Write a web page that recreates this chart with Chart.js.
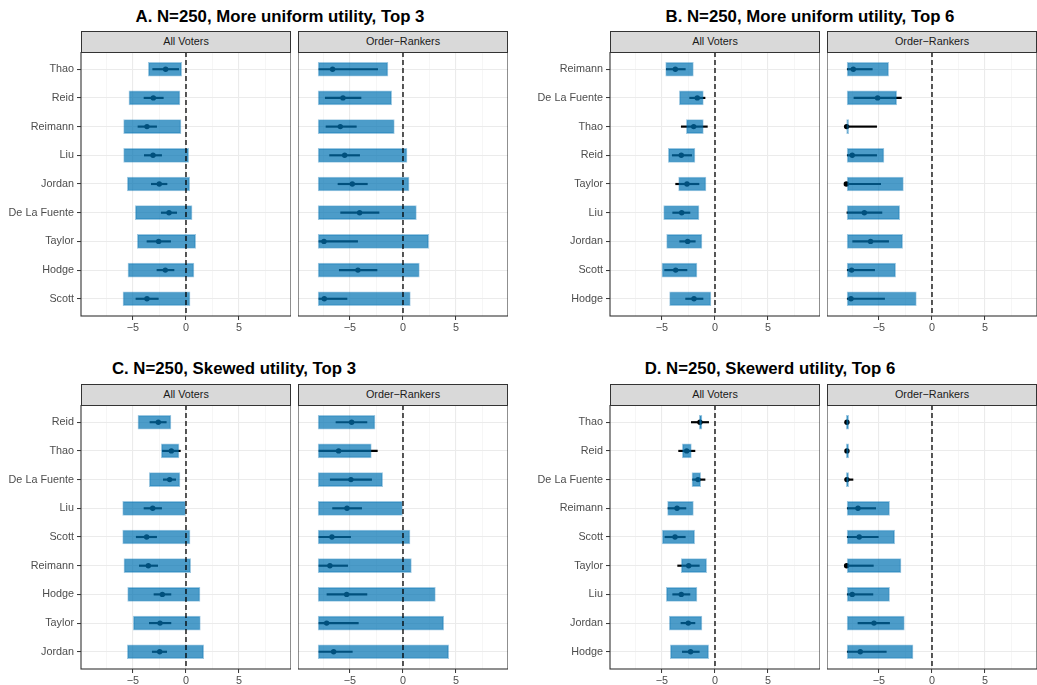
<!DOCTYPE html>
<html lang="en">
<head>
<meta charset="utf-8" />
<title>Candidate ranking estimates</title>
<script src="https://cdn.jsdelivr.net/npm/chart.js"></script>
<style>
  body {
    margin: 0;
    width: 1037px;
    height: 685px;
    position: relative;
    overflow: hidden;
    background: #fff;
    font-family: "Liberation Sans", Arial, sans-serif;
  }
  .title {
    position: absolute;
    font-weight: bold;
    font-size: 16.8px;
    line-height: 18px;
    color: #000;
    transform: translateX(-50%);
    white-space: nowrap;
  }
  .strip {
    position: absolute;
    box-sizing: border-box;
    border: 1px solid #333;
    background: #d9d9d9;
    color: #1a1a1a;
    font-size: 10.8px;
    line-height: 19px;
    text-align: center;
  }
  canvas { position: absolute; }
</style>
</head>
<body>
<script>
  // ---- data ----
  // A. N=250, More uniform utility, Top 3
  const namesA = ["Thao", "Reid", "Reimann", "Liu", "Jordan", "De La Fuente", "Taylor", "Hodge", "Scott"];
  const barsA_all = [[-3.55,-0.41],[-5.38,-0.57],[-5.88,-0.47],[-5.88,0.25],[-5.53,0.35],[-4.78,0.57],[-4.59,0.91],[-5.47,0.75],[-5.94,0.38]];
  const estA_all = [-1.92,-3.08,-3.68,-3.11,-2.52,-1.60,-2.58,-1.95,-3.68];
  const ciA_all = [[-3.14,-0.69],[-3.96,-2.14],[-4.53,-2.77],[-3.93,-2.30],[-3.27,-1.79],[-2.33,-0.88],[-3.68,-1.45],[-2.74,-1.13],[-4.72,-2.61]];
  const barsA_ord = [[-8,-1.42],[-8,-1.07],[-8,-0.82],[-8,0.38],[-8,0.57],[-8,1.26],[-8,2.42],[-8,1.54],[-8,0.69]];
  const estA_ord = [-6.64,-5.66,-5.91,-5.50,-4.78,-4.09,-7.45,-4.25,-7.42];
  const ciA_ord = [[-7.92,-2.39],[-7.33,-3.96],[-7.26,-4.40],[-6.92,-4.09],[-6.13,-3.36],[-5.88,-2.26],[-7.92,-4.28],[-6.01,-2.45],[-7.92,-5.28]];

  // B. N=250, More uniform utility, Top 6
  const namesB = ["Reimann", "De La Fuente", "Thao", "Reid", "Taylor", "Liu", "Jordan", "Scott", "Hodge"];
  const barsB_all = [[-4.65,-2.04],[-3.36,-1.10],[-2.70,-1.10],[-4.40,-1.89],[-3.43,-0.85],[-4.84,-1.51],[-4.56,-1.23],[-5.00,-1.70],[-4.28,-0.38]];
  const estB_all = [-3.74,-1.67,-2.01,-3.18,-2.64,-3.14,-2.58,-3.71,-1.98];
  const ciB_all = [[-4.59,-2.80],[-2.39,-0.94],[-3.18,-0.72],[-4.03,-2.20],[-3.71,-1.51],[-3.99,-2.36],[-3.33,-1.86],[-4.75,-2.64],[-2.77,-1.13]];
  const barsB_ord = [[-8,-4.09],[-8,-3.33],[-8.05,-7.86],[-8,-4.53],[-8,-2.70],[-8,-3.05],[-8,-2.77],[-8,-3.43],[-8,-1.48]];
  const estB_ord = [-7.42,-5.13,-8.05,-7.52,-8.08,-6.38,-5.79,-7.58,-7.64];
  const ciB_ord = [[-7.99,-5.63],[-7.36,-2.89],[-8.05,-5.22],[-7.99,-5.22],[-8.08,-4.84],[-8.02,-4.72],[-7.48,-4.09],[-7.99,-5.41],[-7.99,-4.47]];

  // C. N=250, Skewed utility, Top 3
  const namesC = ["Reid", "Thao", "De La Fuente", "Liu", "Scott", "Reimann", "Hodge", "Taylor", "Jordan"];
  const barsC_all = [[-4.53,-1.42],[-2.33,-0.66],[-3.46,-0.57],[-5.97,0.0],[-5.97,0.38],[-5.85,0.44],[-5.50,1.32],[-4.97,1.35],[-5.53,1.67]];
  const estC_all = [-2.61,-1.38,-1.54,-3.14,-3.71,-3.55,-2.23,-2.45,-2.48];
  const ciC_all = [[-3.40,-1.86],[-2.23,-0.53],[-2.14,-0.97],[-3.96,-2.30],[-4.69,-2.77],[-4.40,-2.67],[-3.02,-1.42],[-3.46,-1.42],[-3.18,-1.82]];
  const barsC_ord = [[-8,-2.64],[-8,-2.99],[-8,-1.92],[-8,-0.06],[-8,0.66],[-8,0.79],[-8,3.05],[-8,3.84],[-8,4.31]];
  const estC_ord = [-4.84,-6.07,-4.91,-5.28,-6.70,-6.89,-5.31,-7.20,-6.54];
  const ciC_ord = [[-6.32,-3.40],[-7.92,-2.42],[-6.86,-2.96],[-6.64,-3.90],[-7.92,-4.94],[-7.92,-5.22],[-7.17,-3.40],[-7.92,-4.21],[-7.92,-4.78]];

  // D. N=250, Skewerd utility, Top 6
  const namesD = ["Thao", "Reid", "De La Fuente", "Reimann", "Scott", "Taylor", "Liu", "Jordan", "Hodge"];
  const barsD_all = [[-1.48,-1.23],[-3.08,-2.23],[-2.17,-1.35],[-4.47,-2.04],[-4.97,-1.92],[-3.18,-0.79],[-4.59,-1.70],[-4.31,-1.23],[-4.21,-0.60]];
  const estD_all = [-1.42,-2.67,-1.60,-3.58,-3.77,-2.48,-3.18,-2.52,-2.30];
  const ciD_all = [[-2.23,-0.60],[-3.43,-1.89],[-2.11,-0.94],[-4.43,-2.74],[-4.72,-2.80],[-3.52,-1.48],[-3.99,-2.36],[-3.21,-1.89],[-3.08,-1.48]];
  const barsD_ord = [[-8.08,-7.86],[-8.08,-7.86],[-8.08,-7.86],[-8,-4.0],[-8,-3.52],[-8,-2.92],[-8,-4.0],[-8,-2.61],[-8,-1.79]];
  const estD_ord = [-8.02,-8.02,-8.02,-6.98,-6.86,-8.05,-7.52,-5.47,-6.76];
  const ciD_ord = [[-8.06,-7.98],[-8.06,-7.98],[-8.08,-7.45],[-7.99,-5.31],[-7.99,-5.06],[-8.05,-5.53],[-7.99,-5.57],[-6.98,-4.0],[-7.99,-4.31]];

  const facetNames = ["All Voters", "Order\u2212Rankers"];
  const xMin = -9.9, xMax = 9.9;

  // ---- layout ----
  const FONT = "'Liberation Sans', Arial, sans-serif";
  const PLOT_W = 210, PLOT_H = 264, AXIS_H = 22;

  const panels = [
    { title: "A. N=250, More uniform utility, Top 3", cx: 280, titleTop: 8.4, top: 52, left: [81, 298], labelW: 81,
      names: namesA, facets: [[barsA_all, estA_all, ciA_all], [barsA_ord, estA_ord, ciA_ord]] },
    { title: "B. N=250, More uniform utility, Top 6", cx: 810, titleTop: 8.4, top: 52, left: [610, 827], labelW: 90,
      names: namesB, facets: [[barsB_all, estB_all, ciB_all], [barsB_ord, estB_ord, ciB_ord]] },
    { title: "C. N=250, Skewed utility, Top 3", cx: 234, titleTop: 359.7, top: 405, left: [81, 298], labelW: 81,
      names: namesC, facets: [[barsC_all, estC_all, ciC_all], [barsC_ord, estC_ord, ciC_ord]] },
    { title: "D. N=250, Skewerd utility, Top 6", cx: 770, titleTop: 359.7, top: 405, left: [610, 827], labelW: 90,
      names: namesD, facets: [[barsD_all, estD_all, ciD_all], [barsD_ord, estD_ord, ciD_ord]] }
  ];

  // panel frame (theme_bw style border)
  const framePlugin = {
    id: "frame",
    afterDraw(chart) {
      const { ctx, chartArea: a } = chart;
      ctx.save();
      ctx.strokeStyle = "#333333";
      ctx.lineWidth = 1.1;
      ctx.strokeRect(a.left, a.top, a.right - a.left, a.bottom - a.top);
      ctx.restore();
    }
  };

  const isMajor = v => Math.abs(v % 5) < 1e-6;

  function addDiv(cls, text, css) {
    const d = document.createElement("div");
    d.className = cls;
    d.textContent = text;
    Object.assign(d.style, css);
    document.body.appendChild(d);
  }

  function makeFacet(p, k) {
    const [bars, est, ci] = p.facets[k];
    const withLabels = k === 0;
    const labelW = withLabels ? p.labelW : 0;

    const canvas = document.createElement("canvas");
    canvas.width = PLOT_W + labelW;
    canvas.height = PLOT_H + AXIS_H;
    canvas.style.left = (p.left[k] - labelW) + "px";
    canvas.style.top = p.top + "px";
    document.body.appendChild(canvas);

    new Chart(canvas, {
      type: "bar",
      data: {
        datasets: [
          { // zero reference
            type: "line",
            data: [{ x: 0, y: -0.6 }, { x: 0, y: 8.6 }],
            borderColor: "#000",
            borderWidth: 1.3,
            borderDash: [5, 3],
            pointRadius: 0,
            order: 0
          },
          { // range bars
            type: "bar",
            indexAxis: "y",
            data: bars.map((b, i) => ({ x: b, y: i })),
            backgroundColor: "rgba(0,114,178,0.7)",
            borderColor: "rgba(0,114,178,0.38)",
            borderWidth: 1,
            borderSkipped: false,
            barThickness: 14,
            grouped: false,
            order: 1
          },
          { // point estimates
            type: "scatter",
            data: est.map((v, i) => ({ x: v, y: i })),
            pointRadius: 2.7,
            backgroundColor: "#000",
            borderWidth: 0,
            order: 2
          },
          { // interval lines
            type: "bar",
            indexAxis: "y",
            data: ci.map((c, i) => ({ x: c, y: i })),
            backgroundColor: "#000",
            borderWidth: 0,
            barThickness: 1.5,
            grouped: false,
            order: 3
          }
        ]
      },
      options: {
        indexAxis: "y",
        responsive: false,
        animation: false,
        layout: { padding: 0, autoPadding: false },
        plugins: { legend: { display: false }, tooltip: { enabled: false } },
        scales: {
          x: {
            type: "linear",
            position: "bottom",
            min: xMin,
            max: xMax,
            offset: false,
            border: { display: false },
            grid: {
              offset: false,
              color: c => (c.tick && isMajor(c.tick.value)) ? "#ebebeb" : "#f2f2f2",
              lineWidth: c => (c.tick && isMajor(c.tick.value)) ? 1.1 : 0.7,
              tickColor: c => (c.tick && isMajor(c.tick.value)) ? "#333333" : "rgba(0,0,0,0)",
              tickLength: 4,
              tickWidth: 1
            },
            ticks: {
              stepSize: 2.5,
              includeBounds: false,
              autoSkip: false,
              maxRotation: 0,
              padding: 2,
              color: "#4d4d4d",
              font: { family: FONT, size: 10.8 },
              callback: v => isMajor(v) ? (v < 0 ? "\u2212" + Math.abs(v) : String(v)) : ""
            },
            afterFit: s => { s.height = AXIS_H; s.paddingLeft = 0; s.paddingRight = 0; }
          },
          y: {
            type: "linear",
            min: -0.6,
            max: 8.6,
            reverse: true,
            offset: false,
            border: { display: false },
            grid: {
              offset: false,
              color: "#ebebeb",
              lineWidth: 1.1,
              drawTicks: withLabels,
              tickColor: "#333333",
              tickLength: 4,
              tickWidth: 1
            },
            ticks: {
              display: withLabels,
              stepSize: 1,
              includeBounds: false,
              autoSkip: false,
              padding: 3,
              color: "#4d4d4d",
              font: { family: FONT, size: 10.8 },
              callback: v => p.names[v] !== undefined ? p.names[v] : ""
            },
            afterFit: s => { s.width = labelW; s.paddingTop = 0; s.paddingBottom = 0; }
          }
        }
      },
      plugins: [framePlugin]
    });

    addDiv("strip", facetNames[k], {
      left: p.left[k] + "px",
      top: (p.top - 21) + "px",
      width: PLOT_W + "px",
      height: "22px"
    });
  }

  panels.forEach(p => {
    addDiv("title", p.title, { left: p.cx + "px", top: p.titleTop + "px" });
    makeFacet(p, 0);
    makeFacet(p, 1);
  });
</script>
</body>
</html>
